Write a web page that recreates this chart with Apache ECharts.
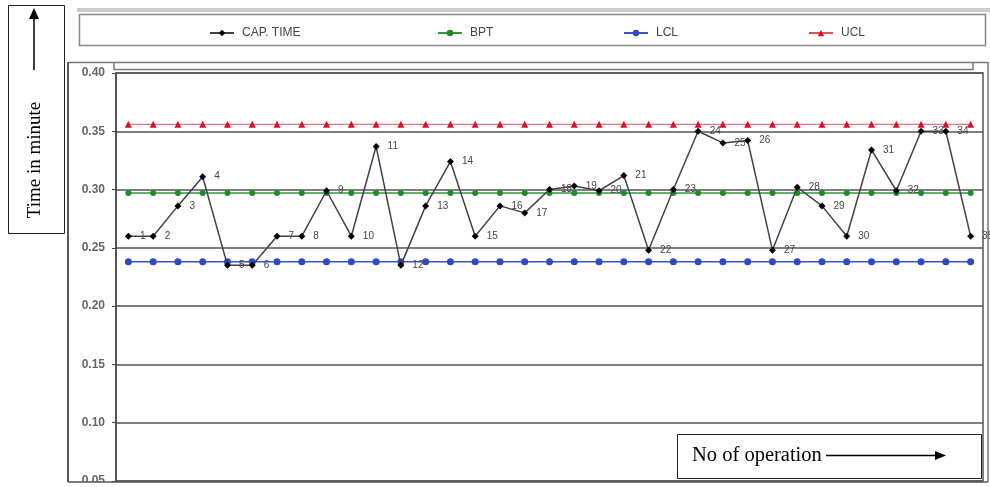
<!DOCTYPE html>
<html>
<head>
<meta charset="utf-8">
<script src="https://cdn.jsdelivr.net/npm/echarts@6/dist/echarts.min.js"></script>
<style>
  html, body { margin: 0; padding: 0; background: #fff; }
  #chart { width: 990px; height: 487px; }
</style>
</head>
<body>
<div id="chart"></div>
<script>
// operation numbers on the x axis
const operations = ['1', '2', '3', '4', '5', '6', '7', '8', '9', '10',
  '11', '12', '13', '14', '15', '16', '17', '18', '19', '20',
  '21', '22', '23', '24', '25', '26', '27', '28', '29', '30',
  '31', '32', '33', '34', '35']

// capacity time per operation (minutes)
const capTime = [0.26, 0.26, 0.286, 0.311, 0.235, 0.235, 0.26, 0.26, 0.299, 0.26,
  0.337, 0.235, 0.286, 0.324, 0.26, 0.286, 0.28, 0.30, 0.303, 0.299,
  0.312, 0.248, 0.30, 0.35, 0.34, 0.342, 0.248, 0.302, 0.286, 0.26,
  0.334, 0.299, 0.35, 0.35, 0.26]

// control lines
const bpt = [0.297, 0.297, 0.297, 0.297, 0.297, 0.297, 0.297, 0.297, 0.297, 0.297,
  0.297, 0.297, 0.297, 0.297, 0.297, 0.297, 0.297, 0.297, 0.297, 0.297,
  0.297, 0.297, 0.297, 0.297, 0.297, 0.297, 0.297, 0.297, 0.297, 0.297,
  0.297, 0.297, 0.297, 0.297, 0.297]
const lcl = [0.238, 0.238, 0.238, 0.238, 0.238, 0.238, 0.238, 0.238, 0.238, 0.238,
  0.238, 0.238, 0.238, 0.238, 0.238, 0.238, 0.238, 0.238, 0.238, 0.238,
  0.238, 0.238, 0.238, 0.238, 0.238, 0.238, 0.238, 0.238, 0.238, 0.238,
  0.238, 0.238, 0.238, 0.238, 0.238]
const ucl = [0.356, 0.356, 0.356, 0.356, 0.356, 0.356, 0.356, 0.356, 0.356, 0.356,
  0.356, 0.356, 0.356, 0.356, 0.356, 0.356, 0.356, 0.356, 0.356, 0.356,
  0.356, 0.356, 0.356, 0.356, 0.356, 0.356, 0.356, 0.356, 0.356, 0.356,
  0.356, 0.356, 0.356, 0.356, 0.356]

const chart = echarts.init(document.getElementById('chart'))

const legendText = { color: '#444', fontSize: 12, fontFamily: 'Liberation Sans, Arial', padding: [0, 0, 0, 3] }
function legendAt(name, left) {
  return { data: [name], left, top: 22, itemWidth: 24, itemHeight: 8, textStyle: legendText }
}

chart.setOption({
  animation: false,
  legend: [
    legendAt('CAP. TIME', 204),
    legendAt('BPT', 432),
    legendAt('LCL', 618),
    legendAt('UCL', 803),
  ],
  grid: { left: 116, right: 7, top: 73, bottom: 5, show: true, borderColor: '#555', borderWidth: 1.5 },
  xAxis: {
    type: 'category',
    data: operations,
    boundaryGap: true,
    axisLine: { show: false },
    axisTick: { show: false },
    axisLabel: { show: false },
  },
  yAxis: {
    type: 'value',
    min: 0.05,
    max: 0.40,
    interval: 0.05,
    axisLine: { show: true, lineStyle: { color: '#444', width: 1.5 } },
    axisTick: { show: true, length: 4, lineStyle: { color: '#444' } },
    axisLabel: {
      formatter: v => v.toFixed(2),
      color: '#666', fontSize: 12, fontWeight: 'bold', margin: 11,
      fontFamily: 'Liberation Sans, Arial',
    },
    splitLine: { lineStyle: { color: '#555', width: 1.5 } },
  },
  series: [
    {
      name: 'UCL', type: 'line', data: ucl,
      symbol: 'triangle', symbolSize: 7,
      lineStyle: { color: '#e0505a', width: 1 },
      itemStyle: { color: '#d8102a' },
      z: 3,
    },
    {
      name: 'BPT', type: 'line', data: bpt,
      symbol: 'circle', symbolSize: 6,
      lineStyle: { color: '#2e9a3a', width: 1.5 },
      itemStyle: { color: '#1f8a2a' },
      z: 3,
    },
    {
      name: 'LCL', type: 'line', data: lcl,
      symbol: 'circle', symbolSize: 7,
      lineStyle: { color: '#3a52d0', width: 1.5 },
      itemStyle: { color: '#2f48c8' },
      z: 3,
    },
    {
      name: 'CAP. TIME', type: 'line', data: capTime,
      symbol: 'diamond', symbolSize: 7,
      lineStyle: { color: '#40404e', width: 1.5 },
      itemStyle: { color: '#000' },
      label: {
        show: true, position: 'right', distance: 8,
        formatter: p => p.dataIndex + 1,
        color: '#444', fontSize: 10, fontFamily: 'Liberation Sans, Arial',
      },
      z: 4,
    },
  ],
  graphic: [
    // top rule and legend frame
    { type: 'line', shape: { x1: 77, y1: 9, x2: 990, y2: 9 }, style: { stroke: '#999', lineWidth: 1 } },
    { type: 'line', shape: { x1: 77, y1: 11, x2: 990, y2: 11 }, style: { stroke: '#999', lineWidth: 1 } },
    { type: 'rect', shape: { x: 79.5, y: 14.5, width: 906, height: 31 }, style: { fill: 'none', stroke: '#888', lineWidth: 1.5 }, z: -1 },
    // chart frame
    { type: 'line', shape: { x1: 68, y1: 62, x2: 68, y2: 482 }, style: { stroke: '#555', lineWidth: 2 } },
    { type: 'line', shape: { x1: 68, y1: 62.5, x2: 988, y2: 62.5 }, style: { stroke: '#777', lineWidth: 1.5 } },
    { type: 'line', shape: { x1: 988, y1: 62, x2: 988, y2: 482 }, style: { stroke: '#777', lineWidth: 1.5 } },
    { type: 'polyline', shape: { points: [[114, 63], [114, 69.5], [973, 69.5], [973, 63]] }, style: { fill: 'none', stroke: '#777', lineWidth: 1.5 } },
    // crop at bottom
    { type: 'rect', shape: { x: 68, y: 482, width: 922, height: 5 }, style: { fill: '#fff' }, z: 100 },
    { type: 'line', shape: { x1: 68, y1: 482, x2: 988, y2: 482 }, style: { stroke: '#555', lineWidth: 1.5 }, z: 101 },
    // y title box
    { type: 'rect', shape: { x: 8.5, y: 5.5, width: 56, height: 228 }, style: { fill: '#fff', stroke: '#222', lineWidth: 1 } },
    { type: 'line', shape: { x1: 34, y1: 70, x2: 34, y2: 18 }, style: { stroke: '#000', lineWidth: 1.5 } },
    { type: 'polygon', shape: { points: [[34, 8], [29, 19], [39, 19]] }, style: { fill: '#000' } },
    {
      type: 'text', x: 35, y: 160, rotation: Math.PI / 2,
      style: {
        text: 'Time in minute', fill: '#000', font: '19px "Liberation Serif", "Times New Roman"',
        align: 'center', verticalAlign: 'middle',
      },
    },
    // x title box
    { type: 'rect', shape: { x: 677.5, y: 434.5, width: 304, height: 44 }, style: { fill: '#fff', stroke: '#222', lineWidth: 1 }, z: 102 },
    {
      type: 'text', x: 692, y: 456, z: 103,
      style: {
        text: 'No of operation', fill: '#000', font: '20.5px "Liberation Serif", "Times New Roman"',
        verticalAlign: 'middle',
      },
    },
    { type: 'line', shape: { x1: 826, y1: 455.5, x2: 938, y2: 455.5 }, style: { stroke: '#000', lineWidth: 1.5 }, z: 103 },
    { type: 'polygon', shape: { points: [[946, 455.5], [935, 451], [935, 460]] }, style: { fill: '#000' }, z: 103 },
  ],
})
</script>
</body>
</html>
